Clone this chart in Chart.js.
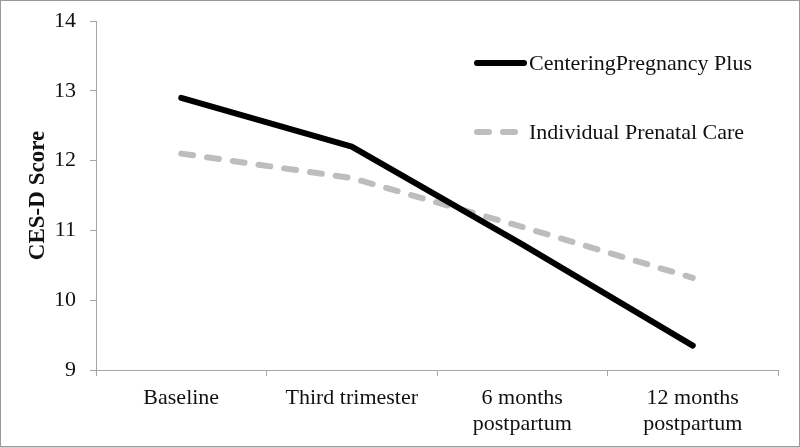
<!DOCTYPE html>
<html lang="en">
<head>
    <meta charset="UTF-8">
    <title>CES-D Score</title>
    <script src="https://cdn.jsdelivr.net/npm/chart.js"></script>
    <style>
        body { margin: 0; background: #fff; }
        #frame { width: 800px; height: 447px; box-sizing: border-box; border: 1px solid #9a9a9a; }
    </style>
</head>
<body>
    <div id="frame">
        <canvas id="cesdChart" width="798" height="445"></canvas>
    </div>
    <script>
        const timepoints = ['Baseline', 'Third trimester', ['6 months', 'postpartum'], ['12 months', 'postpartum']];
        const centeringScores = [12.9, 12.2, 10.8, 9.35];
        const individualScores = [12.1, 11.75, 11.05, 10.32];
        const yTicks = [9, 10, 11, 12, 13, 14];

        const serif = '"Liberation Serif", "Times New Roman", serif';
        const axisGray = '#a6a6a6';

        // legend sits inside the plot, so draw it by hand
        const innerLegend = {
            id: 'innerLegend',
            afterDraw(chart) {
                const ctx = chart.ctx;
                const rows = [{ y: 62 }, { y: 131 }];
                ctx.save();
                chart.data.datasets.forEach((ds, i) => {
                    const y = rows[i].y;
                    ctx.beginPath();
                    ctx.lineWidth = ds.borderWidth;
                    ctx.strokeStyle = ds.borderColor;
                    ctx.lineCap = 'round';
                    ctx.setLineDash(ds.borderDash || []);
                    ctx.moveTo(476, y);
                    ctx.lineTo(i === 0 ? 523 : 520, y);
                    ctx.stroke();
                    ctx.setLineDash([]);
                    ctx.fillStyle = '#111';
                    ctx.font = '22px ' + serif;
                    ctx.textBaseline = 'middle';
                    ctx.fillText(ds.label, 528, y + 1);
                });
                ctx.restore();
            }
        };

        new Chart(document.getElementById('cesdChart'), {
            type: 'line',
            data: {
                labels: timepoints,
                datasets: [
                    {
                        label: 'CenteringPregnancy Plus',
                        data: centeringScores,
                        borderColor: '#000',
                        borderWidth: 6,
                        borderCapStyle: 'round',
                        borderJoinStyle: 'round',
                        pointRadius: 0,
                        tension: 0
                    },
                    {
                        label: 'Individual Prenatal Care',
                        data: individualScores,
                        borderColor: '#bdbdbd',
                        borderWidth: 6,
                        borderDash: [12, 14],
                        borderCapStyle: 'round',
                        borderJoinStyle: 'round',
                        pointRadius: 0,
                        tension: 0
                    }
                ]
            },
            options: {
                responsive: false,
                animation: false,
                layout: { padding: { left: 0, right: 21, top: 20, bottom: 0 } },
                plugins: {
                    legend: { display: false },
                    tooltip: { enabled: false }
                },
                scales: {
                    x: {
                        offset: true,
                        grid: { offset: true, drawOnChartArea: false, drawTicks: true, tickLength: 6, color: axisGray },
                        border: { display: true, color: axisGray, width: 1 },
                        ticks: {
                            color: '#111',
                            font: { family: serif, size: 22, lineHeight: 1.15 },
                            padding: 10,
                            maxRotation: 0,
                            autoSkip: false
                        },
                        afterFit(scale) { scale.height = 76; }
                    },
                    y: {
                        min: 9,
                        max: 14,
                        afterBuildTicks(scale) { scale.ticks = yTicks.map(v => ({ value: v })); },
                        grid: { drawOnChartArea: false, drawTicks: true, tickLength: 6, color: axisGray },
                        border: { display: true, color: axisGray, width: 1 },
                        ticks: {
                            color: '#111',
                            font: { family: serif, size: 22 },
                            padding: 14
                        },
                        title: {
                            display: true,
                            text: 'CES-D Score',
                            color: '#111',
                            font: { family: serif, size: 23, weight: 'bold' },
                            padding: { top: 23, bottom: 0 }
                        },
                        afterFit(scale) {
                            scale.width = 95;
                            scale.paddingTop = 0;
                            scale.paddingBottom = 0;
                        }
                    }
                }
            },
            plugins: [innerLegend]
        });
    </script>
</body>
</html>
